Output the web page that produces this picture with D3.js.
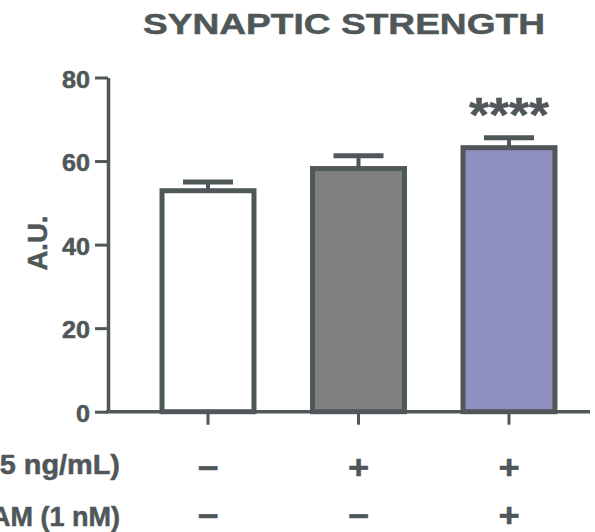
<!DOCTYPE html>
<html>
<head>
<meta charset="utf-8">
<script src="https://cdn.jsdelivr.net/npm/d3@7/dist/d3.min.js"></script>
<style>
  html, body { margin: 0; padding: 0; background: #fff; overflow: hidden; }
  svg { display: block; }
  text { font-family: "Liberation Sans", Arial, Helvetica, sans-serif; font-weight: bold; fill: #4f5759; stroke: #4f5759; stroke-width: 0.5px; }
</style>
</head>
<body>
<svg id="chart" width="595" height="532"></svg>
<script>
// Groups, means and SEM
const groups = ["Control", "BDNF", "BDNF + PAM"];
const means = [52.9, 58.2, 63.2];
const sems = [2.1, 3.05, 2.4];
const fills = ["#ffffff", "#808080", "#8f8fc0"];
const yTicks = [0, 20, 40, 60, 80];
const significance = ["", "", "****"];

// Treatment table under the bars
const rowLabels = ["BDNF (25 ng/mL)", "PAM (1 nM)"];
const rowSigns = [["−", "+", "+"], ["−", "−", "+"]];

const ink = "#4f5759";
const svg = d3.select("#chart");

const y = d3.scaleLinear().domain([0, 80]).range([411.7, 77.5]);
const x = d3.scaleBand().domain(groups).range([108, 609])
  .paddingInner(0.389).paddingOuter(0.359);
const cx = d => x(d) + x.bandwidth() / 2;

// Title
svg.append("text")
  .attr("x", 344).attr("y", 33.5)
  .attr("text-anchor", "middle")
  .attr("font-size", 29.5)
  .attr("textLength", 402).attr("lengthAdjust", "spacingAndGlyphs")
  .text("SYNAPTIC STRENGTH");

// Bars
svg.append("g").selectAll("rect").data(groups).join("rect")
  .attr("x", d => x(d))
  .attr("y", (d, i) => y(means[i]))
  .attr("width", x.bandwidth())
  .attr("height", (d, i) => y(0) - y(means[i]))
  .attr("fill", (d, i) => fills[i])
  .attr("stroke", ink)
  .attr("stroke-width", 5);

// Error bars (upper only)
const eb = svg.append("g").attr("stroke", ink);
eb.selectAll("line.stem").data(groups).join("line")
  .attr("class", "stem")
  .attr("x1", cx).attr("x2", cx)
  .attr("y1", (d, i) => y(means[i]))
  .attr("y2", (d, i) => y(means[i] + sems[i]))
  .attr("stroke-width", 4);
eb.selectAll("line.cap").data(groups).join("line")
  .attr("class", "cap")
  .attr("x1", d => cx(d) - 25)
  .attr("x2", d => cx(d) + 25)
  .attr("y1", (d, i) => y(means[i] + sems[i]))
  .attr("y2", (d, i) => y(means[i] + sems[i]))
  .attr("stroke-width", 5);

// Significance stars
const starData = groups.map((g, i) => ({ g, i, s: significance[i] })).filter(o => o.s);
svg.append("g").selectAll("text").data(starData).join("text")
  .attr("x", o => cx(o.g))
  .attr("y", o => y(means[o.i] + sems[o.i]) - 7)
  .attr("text-anchor", "middle")
  .attr("font-size", 48)
  .attr("textLength", 80).attr("lengthAdjust", "spacingAndGlyphs")
  .text(o => o.s);

// Y axis
const yAxis = svg.append("g")
  .attr("transform", "translate(108,0)")
  .call(d3.axisLeft(y).tickValues(yTicks).tickSize(13).tickSizeOuter(0).tickPadding(5));
yAxis.select(".domain").attr("stroke", ink).attr("stroke-width", 3.5);
yAxis.selectAll(".tick line").attr("stroke", ink).attr("stroke-width", 3);
yAxis.selectAll(".tick text")
  .attr("font-size", 23)
  .attr("font-family", null)
  .attr("fill", ink)
  .attr("dy", "0.42em")
  .attr("textLength", d => String(d).length * 14)
  .attr("lengthAdjust", "spacingAndGlyphs");

// X axis
const xAxis = svg.append("g")
  .attr("transform", `translate(0,${y(0)})`)
  .call(d3.axisBottom(x).tickSize(13).tickSizeOuter(0).tickFormat(""));
xAxis.select(".domain").remove();
xAxis.selectAll(".tick line").attr("stroke", ink).attr("stroke-width", 3);
svg.append("line")
  .attr("x1", 106).attr("x2", 590)
  .attr("y1", y(0)).attr("y2", y(0))
  .attr("stroke", ink).attr("stroke-width", 3.5);

// Y axis title
svg.append("text")
  .attr("transform", "translate(47,243) rotate(-90)")
  .attr("text-anchor", "middle")
  .attr("font-size", 27.5)
  .text("A.U.");

// Treatment rows
const rowY = [474, 526];
const rowScale = [1.07, 1.0];
const signY = [479, 527];
rowLabels.forEach((lab, r) => {
  svg.append("text")
    .attr("transform", `translate(120,${rowY[r]}) scale(${rowScale[r]},1)`)
    .attr("text-anchor", "end")
    .attr("font-size", 27)
    .text(lab);
  svg.append("g").selectAll("text").data(groups).join("text")
    .attr("transform", d => `translate(${cx(d)},${signY[r]}) scale(1.1,1)`)
    .attr("text-anchor", "middle")
    .attr("font-size", 33)
    .text((d, i) => rowSigns[r][i]);
});
</script>
</body>
</html>
